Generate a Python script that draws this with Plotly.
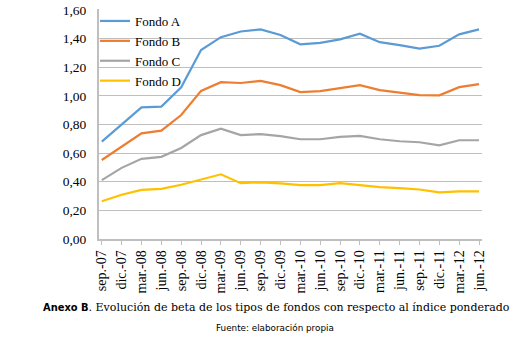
import plotly.graph_objects as go

categories = ["sep.-07", "dic.-07", "mar.-08", "jun.-08", "sep.-08", "dic.-08",
              "mar.-09", "jun.-09", "sep.-09", "dic.-09", "mar.-10", "jun.-10",
              "sep.-10", "dic.-10", "mar.-11", "jun.-11", "sep.-11", "dic.-11",
              "mar.-12", "jun.-12"]

fondo_a = [0.68, 0.80, 0.92, 0.925, 1.06, 1.32, 1.41, 1.45, 1.465, 1.425,
           1.36, 1.37, 1.395, 1.435, 1.375, 1.355, 1.33, 1.35, 1.43, 1.465]
fondo_b = [0.552, 0.647, 0.738, 0.757, 0.866, 1.035, 1.096, 1.09, 1.105, 1.075,
           1.026, 1.033, 1.054, 1.075, 1.04, 1.024, 1.005, 1.004, 1.061, 1.082]
fondo_c = [0.411, 0.497, 0.56, 0.574, 0.636, 0.726, 0.771, 0.726, 0.733, 0.719,
           0.697, 0.697, 0.714, 0.721, 0.697, 0.683, 0.676, 0.654, 0.69, 0.69]
fondo_d = [0.264, 0.309, 0.343, 0.35, 0.379, 0.414, 0.452, 0.39, 0.396, 0.389,
           0.377, 0.377, 0.391, 0.377, 0.362, 0.355, 0.346, 0.326, 0.333, 0.333]

y_ticks = [0.0, 0.2, 0.4, 0.6, 0.8, 1.0, 1.2, 1.4, 1.6]

series = [("Fondo A", fondo_a, "#5B9BD5"),
          ("Fondo B", fondo_b, "#ED7D31"),
          ("Fondo C", fondo_c, "#A5A5A5"),
          ("Fondo D", fondo_d, "#FFC000")]

fig = go.Figure()
for name, vals, color in series:
    fig.add_trace(go.Scatter(x=categories, y=vals, name=name, mode="lines",
                             line=dict(color=color, width=2.2)))

serif = "Liberation Serif"

W, H = 525, 339
PL, PT, PR, PB = 99, 9, 482, 239
plot_w, plot_h = PR - PL, PB - PT

def py(y_ref):
    return (PB - y_ref) / plot_h

def px(x_ref):
    return (x_ref - PL) / plot_w

fig.update_layout(
    width=W, height=H,
    margin=dict(l=PL, r=W - PR, t=PT, b=H - PB, autoexpand=False),
    paper_bgcolor="white", plot_bgcolor="white",
    separators=",.",
    showlegend=True,
    legend=dict(x=px(95), y=py(6), xanchor="left", yanchor="top",
                bgcolor="rgba(0,0,0,0)", font=dict(family=serif, size=13, color="black"),
                itemwidth=30, tracegroupgap=0),
    xaxis=dict(type="category", range=[-0.14, 19.15], tickangle=-90,
               automargin=False,
               showgrid=False, showline=True, linecolor="#bfbfbf", linewidth=1.5,
               ticks="outside", ticklen=4, tickcolor="#bfbfbf",
               tickfont=dict(family=serif, size=14, color="black")),
    yaxis=dict(range=[0, 1.607], tickvals=y_ticks, tickformat=".2f",
               automargin=False, ticklabeloverflow="allow",
               showgrid=True, gridcolor="#bfbfbf", gridwidth=1,
               showline=True, linecolor="#bfbfbf", linewidth=2,
               zeroline=False, ticks="", ticklabelstandoff=8,
               tickfont=dict(family=serif, size=13.5, color="black")),
    annotations=[
        dict(text="<span style=\"font-family:'DejaVu Sans Condensed','Liberation Sans Narrow','Roboto Condensed',sans-serif\"><b>Anexo B</b></span>. Evolución de beta de los tipos de fondos con respecto al índice ponderado",
             xref="paper", yref="paper", x=px(276), y=py(307),
             xanchor="center", yanchor="middle", showarrow=False,
             font=dict(family="DejaVu Serif", size=11, color="black")),
        dict(text="Fuente: elaboración propia",
             xref="paper", yref="paper", x=px(275), y=py(328),
             xanchor="center", yanchor="middle", showarrow=False,
             font=dict(family="DejaVu Sans", size=8.8, color="black")),
    ],
)

fig.write_html("out.html", config={"displayModeBar": False},
               post_script="document.body.style.margin='0';")
